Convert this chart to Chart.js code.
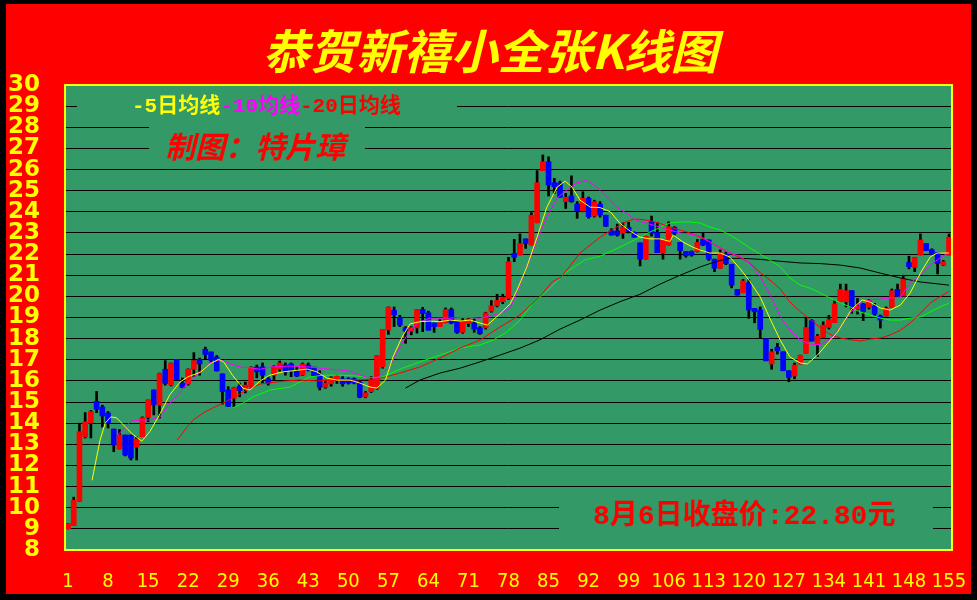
<!DOCTYPE html>
<html>
<head>
<meta charset="utf-8">
<script src="https://cdn.jsdelivr.net/npm/chart.js@4.4.1/dist/chart.umd.min.js"></script>
<style>
html, body { margin: 0; padding: 0; background: #000; }
</style>
</head>
<body>
<canvas id="kline-chart" width="977" height="600"></canvas>
<script>
// daily candles (day 1 .. 155)
const opens = [
    9.0, 9.15, 10.3, 13.36, 14.0, 15.03, 14.77, 14.48, 13.72, 12.78,
    13.44, 13.44, 12.87, 13.36, 14.27, 15.57, 14.86, 16.55, 15.82, 17.02,
    15.9, 15.86, 16.55, 17.02, 17.5, 17.37, 17.13, 16.33, 15.57, 15.18,
    15.75, 15.6, 15.72, 16.65, 16.67, 16.1, 16.27, 16.55, 16.75, 16.8,
    16.51, 16.27, 16.75, 16.65, 16.33, 15.7, 15.86, 16.07, 16.1, 16.1,
    16.1, 15.94, 15.25, 15.49, 15.65, 16.67, 18.41, 19.34, 19.0, 18.52,
    18.36, 18.51, 19.38, 19.22, 18.74, 18.57, 18.75, 19.38, 18.82, 18.3,
    18.71, 18.74, 18.52, 18.51, 19.3, 19.55, 19.75, 19.9, 22.03, 21.96,
    22.72, 22.43, 23.48, 25.95, 26.37, 25.38, 25.36, 24.48, 24.75, 24.37,
    24.05, 24.64, 23.8, 24.36, 23.84, 23.1, 23.1, 22.99, 23.27, 23.03,
    22.53, 21.76, 23.53, 23.02, 22.07, 22.43, 23.27, 22.55, 22.12, 22.12,
    22.12, 22.7, 22.67, 21.76, 21.33, 22.0, 21.52, 20.33, 20.17, 20.64,
    19.43, 19.35, 18.0, 16.8, 17.6, 17.38, 16.48, 16.23, 16.8, 17.3,
    18.85, 17.74, 18.06, 18.53, 18.76, 19.74, 19.74, 20.27, 19.39, 19.64,
    19.48, 19.54, 19.07, 19.07, 19.48, 20.33, 20.02, 21.6, 21.37, 21.96,
    22.5, 22.2, 22.07, 21.48, 21.96
];
const closes = [
    9.25, 10.35, 13.6, 14.07, 14.55, 14.66, 14.34, 14.0, 12.97, 13.44,
    12.49, 12.35, 13.25, 14.26, 15.1, 14.86, 16.35, 15.88, 16.84, 16.06,
    15.68, 16.56, 16.96, 16.8, 17.25, 16.98, 16.47, 15.5, 14.8, 15.68,
    15.54, 15.8, 16.65, 16.43, 16.27, 15.9, 16.67, 16.85, 16.43, 16.47,
    16.23, 16.8, 16.51, 16.23, 15.7, 15.9, 16.15, 16.23, 15.86, 15.9,
    15.9, 15.23, 15.44, 16.04, 17.2, 18.44, 19.49, 19.13, 18.64, 18.36,
    18.52, 19.38, 19.19, 18.4, 18.57, 18.82, 19.38, 18.74, 18.3, 18.82,
    18.93, 18.45, 18.24, 19.22, 19.55, 19.81, 19.96, 21.64, 21.85, 22.5,
    22.5, 23.84, 25.38, 26.37, 25.27, 25.19, 24.69, 24.69, 24.48, 24.05,
    24.64, 23.77, 24.48, 23.85, 23.32, 22.9, 22.9, 23.27, 23.07, 22.8,
    21.76, 22.85, 22.98, 22.07, 22.67, 23.27, 22.98, 22.17, 21.92, 21.95,
    22.55, 22.43, 21.76, 21.33, 22.05, 21.55, 20.53, 20.06, 20.73, 19.35,
    19.27, 18.44, 16.95, 17.38, 17.42, 16.48, 16.17, 16.75, 17.22, 18.53,
    17.88, 18.12, 18.64, 18.9, 19.65, 20.33, 20.27, 19.48, 19.54, 19.28,
    19.8, 19.16, 18.88, 19.43, 20.27, 20.01, 20.86, 21.4, 21.85, 22.67,
    22.17, 22.0, 21.56, 21.64, 22.8
];
const highs = [
    9.25, 10.5, 14.0, 14.5, 14.6, 15.5, 14.85, 14.55, 13.72, 13.7,
    13.44, 13.44, 13.35, 14.3, 15.1, 15.57, 16.37, 16.96, 16.85, 17.02,
    16.14, 16.57, 17.34, 17.08, 17.6, 17.37, 17.2, 16.33, 15.73, 15.7,
    15.9, 15.94, 16.67, 16.75, 16.85, 16.2, 16.72, 16.94, 16.85, 16.85,
    16.67, 16.85, 16.85, 16.65, 16.48, 16.04, 16.2, 16.27, 16.2, 16.15,
    16.14, 16.0, 15.5, 16.2, 17.2, 18.44, 19.5, 19.5, 19.1, 18.57,
    18.57, 19.38, 19.48, 19.3, 18.74, 18.9, 19.45, 19.45, 18.82, 18.95,
    19.0, 18.93, 18.57, 19.25, 19.8, 20.1, 20.1, 21.85, 22.7, 22.95,
    22.72, 23.96, 25.95, 26.69, 26.6, 25.58, 25.45, 24.87, 25.7, 24.48,
    24.95, 24.7, 24.55, 24.48, 23.84, 23.2, 23.42, 23.48, 23.5, 23.05,
    22.53, 22.85, 23.8, 23.5, 22.67, 23.53, 23.3, 22.55, 22.12, 22.15,
    22.7, 22.99, 22.67, 21.76, 22.2, 22.1, 21.52, 20.33, 20.8, 20.8,
    19.43, 19.5, 18.0, 17.5, 17.78, 17.38, 16.48, 16.85, 17.22, 18.96,
    18.9, 18.2, 18.8, 19.1, 19.8, 20.58, 20.58, 20.27, 19.9, 19.67,
    19.85, 19.67, 19.12, 19.5, 20.35, 20.58, 21.0, 21.9, 21.85, 22.95,
    22.5, 22.25, 22.07, 21.7, 22.95
];
const lows = [
    9.0, 9.15, 10.3, 13.3, 13.3, 14.5, 13.82, 13.77, 12.65, 12.78,
    12.45, 12.26, 12.26, 13.36, 14.07, 14.39, 14.24, 15.8, 15.76, 16.04,
    15.67, 15.8, 16.2, 16.27, 17.02, 16.83, 16.47, 14.9, 14.78, 14.78,
    15.25, 15.43, 15.7, 16.14, 15.9, 15.8, 16.06, 16.46, 16.27, 16.2,
    16.2, 16.25, 16.47, 16.2, 15.57, 15.65, 15.75, 15.88, 15.75, 15.85,
    15.86, 15.2, 15.2, 15.45, 15.6, 16.6, 18.2, 18.57, 18.57, 17.78,
    18.18, 18.26, 18.33, 18.4, 18.3, 18.57, 18.75, 18.7, 18.25, 18.25,
    18.57, 18.3, 18.2, 18.45, 19.25, 19.5, 19.65, 19.85, 21.64, 21.96,
    22.27, 22.43, 23.48, 25.95, 24.75, 24.86, 24.69, 24.16, 24.45, 23.69,
    24.0, 23.7, 23.75, 23.75, 23.3, 22.9, 22.85, 22.74, 23.0, 22.8,
    21.44, 21.76, 22.85, 22.07, 21.76, 22.43, 22.9, 21.76, 21.85, 21.9,
    22.1, 22.4, 21.7, 21.17, 21.33, 21.5, 20.4, 20.06, 20.17, 18.96,
    18.75, 18.0, 16.95, 16.55, 17.27, 16.48, 15.96, 16.1, 16.8, 17.3,
    17.88, 17.15, 18.06, 18.45, 18.76, 19.74, 19.5, 19.2, 19.16, 18.85,
    19.4, 19.1, 18.5, 19.07, 19.48, 20.0, 20.02, 21.3, 21.17, 21.96,
    22.17, 22.0, 21.06, 21.45, 21.96
];

// average lines: [day, value]
const ma5 = [
    [5.2, 11.3], [6.6, 13.2], [7.5, 14.0], [8.5, 14.3], [9.5, 14.25], [10.4, 14.0], [12.2, 13.5],
    [13.9, 13.15], [15.3, 13.6], [17.1, 14.45], [18.8, 15.35], [20.6, 15.95], [22.0, 16.2],
    [24.1, 16.4], [25.8, 16.8], [27.3, 17.02], [28.2, 16.9], [29.8, 16.25], [31.6, 15.65],
    [32.8, 15.57], [34.6, 16.0], [36.3, 16.27], [38.6, 16.43], [41.0, 16.5], [42.8, 16.56],
    [44.5, 16.43], [46.3, 16.13], [48.0, 16.04], [50.3, 16.04], [52.0, 15.9], [53.8, 15.71],
    [55.0, 15.66], [56.5, 16.04], [57.8, 17.13], [59.4, 18.08], [60.8, 18.7], [62.5, 18.8],
    [64.3, 18.83], [66.0, 18.8], [67.8, 18.88], [69.5, 18.83], [71.3, 18.88], [73.0, 18.74],
    [74.3, 18.64], [75.3, 18.88], [77.0, 19.3], [78.3, 19.65], [79.5, 20.3], [81.2, 21.39],
    [83.0, 22.8], [84.7, 24.22], [86.5, 25.17], [87.9, 25.45], [89.1, 25.17], [90.5, 24.55],
    [92.3, 24.22], [94.0, 24.2], [95.8, 24.0], [97.5, 23.45], [99.3, 23.08], [101.0, 22.8],
    [102.7, 22.72], [104.5, 22.72], [106.2, 22.6], [106.8, 22.9], [108.5, 22.57], [110.2, 22.33],
    [111.5, 22.19], [113.2, 22.05], [115.0, 22.05], [116.7, 21.86], [118.5, 21.3], [120.2, 20.7],
    [122.0, 19.97], [123.7, 18.95], [125.5, 17.93], [127.2, 17.13], [129.0, 16.85], [130.2, 16.8],
    [132.0, 17.22], [133.8, 17.79], [135.5, 18.31], [137.2, 19.05], [138.0, 19.4], [139.8, 19.83],
    [141.2, 19.73], [143.0, 19.45], [144.7, 19.35], [146.5, 19.59], [148.2, 20.16], [150.0, 21.1],
    [151.7, 21.86], [152.9, 22.05], [155.0, 22.05]
];
const ma10 = [
    [9.7, 13.44], [12.0, 14.1], [13.7, 14.15], [15.3, 14.15], [17.1, 14.3], [18.8, 14.95],
    [20.6, 15.47], [22.3, 16.04], [24.1, 16.45], [25.8, 16.85], [27.6, 17.0], [29.4, 16.8],
    [31.1, 16.66], [32.8, 16.62], [34.6, 16.55], [36.3, 16.66], [39.8, 16.7], [43.2, 16.66],
    [46.6, 16.56], [50.1, 16.47], [53.1, 16.18], [55.0, 16.13], [57.2, 16.66], [59.0, 17.6],
    [60.8, 18.4], [62.5, 18.8], [64.3, 18.97], [66.0, 18.97], [67.8, 18.97], [69.5, 19.0],
    [71.3, 19.0], [73.0, 18.97], [74.8, 19.07], [76.5, 19.2], [78.3, 19.45], [79.5, 20.2],
    [81.2, 21.39], [83.0, 22.66], [84.7, 23.75], [86.5, 24.65], [88.2, 25.03], [89.9, 25.36],
    [91.6, 25.5], [93.4, 25.17], [95.1, 24.7], [96.9, 24.22], [98.6, 23.94], [100.3, 23.6],
    [102.0, 23.47], [104.5, 23.28], [106.2, 23.14], [108.0, 23.0], [109.7, 22.95], [111.5, 22.85],
    [113.2, 22.57], [115.0, 22.29], [116.7, 22.05], [118.5, 21.9], [120.2, 21.55], [122.0, 20.91],
    [123.7, 20.1], [125.5, 19.05], [127.2, 18.4], [129.0, 17.93], [130.7, 17.74], [132.5, 17.72],
    [134.2, 17.98], [136.0, 18.55], [137.7, 19.2], [139.5, 19.73], [141.2, 19.83], [143.0, 19.87],
    [144.7, 19.92], [146.5, 19.97], [148.2, 20.63], [150.0, 21.0], [151.7, 21.48], [153.4, 21.81],
    [155.0, 22.1]
];
const ma20 = [
    [20.1, 13.2], [21.8, 13.82], [22.9, 14.15], [24.6, 14.48], [26.3, 14.72], [28.1, 14.95],
    [29.8, 15.2], [31.6, 15.47], [33.3, 15.71], [34.6, 15.85], [38.6, 15.99], [41.5, 16.04],
    [44.5, 16.0], [47.3, 16.04], [50.3, 16.04], [53.1, 16.06], [56.0, 16.15], [59.0, 16.37],
    [62.5, 16.66], [66.0, 17.08], [69.5, 17.55], [73.0, 17.93], [76.5, 18.55], [80.0, 19.12],
    [83.4, 19.97], [85.7, 20.7], [87.2, 20.91], [90.5, 22.05], [94.0, 22.8], [96.3, 23.18],
    [98.0, 23.47], [99.8, 23.65], [101.0, 23.65], [102.7, 23.58], [104.5, 23.45], [106.2, 23.28],
    [108.0, 23.14], [109.7, 23.0], [111.5, 22.8], [113.2, 22.57], [115.0, 22.3], [116.7, 22.05],
    [118.5, 21.83], [120.2, 21.58], [122.0, 21.12], [123.7, 20.77], [125.5, 20.35], [127.2, 19.73],
    [129.0, 19.28], [130.7, 18.92], [132.5, 18.52], [134.2, 18.2], [136.0, 18.03], [137.7, 17.95],
    [139.5, 17.89], [141.2, 17.98], [143.0, 18.03], [144.7, 18.17], [146.5, 18.4], [148.2, 18.74],
    [150.0, 19.2], [151.7, 19.68], [153.4, 19.97], [155.0, 20.25]
];
const ma30 = [
    [29.8, 14.72], [31.6, 14.95], [33.3, 15.24], [36.3, 15.57], [39.8, 15.71], [43.2, 16.18],
    [45.5, 16.27], [49.0, 16.27], [51.5, 16.23], [53.8, 16.15], [56.0, 16.18], [59.0, 16.55],
    [62.5, 16.9], [66.0, 17.22], [69.5, 17.55], [73.0, 17.7], [75.3, 17.93], [77.7, 18.31],
    [80.0, 18.88], [82.3, 19.68], [84.7, 20.25], [87.9, 21.1], [91.3, 21.72], [94.0, 21.9],
    [97.5, 22.33], [101.0, 22.8], [102.7, 23.04], [104.5, 23.26], [106.2, 23.47], [108.0, 23.52],
    [109.7, 23.52], [111.5, 23.47], [113.2, 23.28], [115.0, 23.14], [116.7, 22.9], [118.5, 22.6],
    [120.2, 22.29], [122.0, 22.0], [123.7, 21.72], [125.5, 21.4], [127.2, 20.87], [129.0, 20.53],
    [130.7, 20.39], [132.5, 20.16], [134.2, 19.92], [136.0, 19.7], [137.7, 19.5], [139.5, 19.26],
    [141.2, 19.12], [143.0, 18.97], [144.7, 18.88], [146.5, 18.88], [148.2, 18.97], [150.0, 19.02],
    [151.7, 19.26], [153.4, 19.5], [155.0, 19.68]
];
const ma60 = [
    [60.0, 15.66], [62.5, 16.04], [66.0, 16.37], [69.5, 16.6], [73.0, 16.9], [76.5, 17.22],
    [80.0, 17.55], [83.4, 17.93], [87.0, 18.45], [90.5, 18.88], [94.0, 19.35], [97.5, 19.75],
    [101.0, 20.1], [104.5, 20.58], [108.0, 21.0], [111.5, 21.39], [113.2, 21.55], [115.0, 21.7],
    [116.7, 21.8], [118.5, 21.8], [120.2, 21.78], [122.0, 21.75], [125.5, 21.66], [129.0, 21.58],
    [132.5, 21.55], [136.0, 21.48], [139.5, 21.34], [143.0, 21.1], [146.5, 20.87], [150.0, 20.68],
    [153.4, 20.58], [155.0, 20.53]
];

const xTickDays = [1, 8, 15, 22, 29, 36, 43, 50, 57, 64, 71, 78, 85, 92, 99, 106, 113, 120, 127, 134, 141, 148, 155];
const titleText = "恭贺新禧小全张K线图";
const legendParts = [["-5日均线", "#ffff00"], ["-10均线", "#ff00ff"], ["-20日均线", "#ff0000"]];
const authorText = "制图：特片璋";
const closeText = "8月6日收盘价:22.80元";

const GREEN = "#339966";

const toPoints = (pairs) => pairs.map(p => ({ x: p[0], y: p[1] }));

function lineSet(label, pairs, color) {
    return {
        type: 'line',
        label: label,
        data: toPoints(pairs),
        borderColor: color,
        borderWidth: 1,
        pointRadius: 0,
        tension: 0,
        order: 0,
    };
}

const framePlugin = {
    id: 'frame',
    beforeDraw(chart) {
        const { ctx, chartArea } = chart;
        ctx.save();
        ctx.fillStyle = "#000";
        ctx.fillRect(0, 0, 977, 600);
        ctx.fillStyle = "#ff0000";
        ctx.fillRect(6, 4, 965, 590);
        ctx.fillStyle = GREEN;
        ctx.fillRect(chartArea.left, chartArea.top, chartArea.right - chartArea.left, chartArea.bottom - chartArea.top);
        ctx.restore();
    },
    beforeDatasetsDraw(chart) {
        // boxes behind the texts hide the grid lines there
        const ctx = chart.ctx;
        ctx.save();
        ctx.fillStyle = GREEN;
        ctx.fillRect(77, 95, 380, 22);
        ctx.fillRect(149, 118, 216, 40);
        ctx.fillRect(559, 498, 374, 42);
        ctx.restore();
    },
    afterDraw(chart) {
        const { ctx, chartArea } = chart;
        ctx.save();
        ctx.strokeStyle = "#ffff00";
        ctx.lineWidth = 2;
        ctx.strokeRect(chartArea.left, chartArea.top, chartArea.right - chartArea.left, chartArea.bottom - chartArea.top);

        ctx.textBaseline = "middle";
        ctx.textAlign = "center";
        ctx.fillStyle = "#ffff00";
        ctx.font = "italic bold 47px 'Noto Sans CJK SC'";
        ctx.fillText(titleText, 490, 51);

        ctx.textAlign = "left";
        ctx.font = "bold 21px 'Liberation Mono', 'Noto Sans CJK SC'";
        let x = 132;
        for (const [text, color] of legendParts) {
            ctx.fillStyle = color;
            ctx.fillText(text, x, 107);
            x += ctx.measureText(text).width;
        }

        ctx.fillStyle = "#ff0000";
        ctx.font = "italic bold 30px 'Noto Sans CJK SC'";
        ctx.fillText(authorText, 165, 147);

        ctx.font = "bold 28px 'Liberation Mono', 'Noto Sans CJK SC'";
        ctx.fillText(closeText, 593, 517);
        ctx.restore();
    }
};

const days = opens.map((_, i) => i + 1);

const canvas = document.querySelector("#kline-chart");

const chart = new Chart(canvas, {
    type: 'bar',
    data: {
        datasets: [
            lineSet('MA5', ma5, "#ffff00"),
            lineSet('MA10', ma10, "#ff00ff"),
            lineSet('MA20', ma20, "#ff0000"),
            lineSet('MA30', ma30, "#00ff00"),
            lineSet('MA60', ma60, "#000000"),
            {
                label: 'body',
                data: days.map((d, i) => ({ x: d, y: [opens[i], closes[i]] })),
                backgroundColor: (c) => closes[c.dataIndex] >= opens[c.dataIndex] ? "#ff0000" : "#0000ff",
                barThickness: 5,
                minBarLength: 2,
                grouped: false,
                order: 1,
            },
            {
                label: 'wick',
                data: days.map((d, i) => ({ x: d, y: [lows[i], highs[i]] })),
                backgroundColor: "#000000",
                barThickness: 2,
                grouped: false,
                order: 2,
            },
        ]
    },
    options: {
        responsive: false,
        animation: false,
        devicePixelRatio: 1,
        layout: {
            padding: { top: 85, left: 6, right: 25, bottom: 0 }
        },
        plugins: {
            legend: { display: false },
            tooltip: { enabled: false },
        },
        scales: {
            x: {
                type: 'linear',
                min: 0.475,
                max: 155.52,
                offset: false,
                grid: { display: false },
                border: { display: false },
                afterFit(scale) {
                    scale.height = 50;
                    scale.paddingLeft = 0;
                    scale.paddingRight = 0;
                },
                afterBuildTicks(scale) { scale.ticks = xTickDays.map(v => ({ value: v })); },
                ticks: {
                    color: "#ffff00",
                    font: { family: "'Liberation Sans Narrow', 'DejaVu Sans Condensed', 'Liberation Sans'", size: 20 },
                    padding: 12,
                    autoSkip: false,
                    maxRotation: 0,
                }
            },
            y: {
                min: 8,
                max: 30,
                grid: { color: "#000000", lineWidth: 1, drawTicks: false },
                border: { display: false },
                afterFit(scale) {
                    scale.width = 59;
                    scale.paddingTop = 0;
                    scale.paddingBottom = 0;
                },
                ticks: {
                    stepSize: 1,
                    autoSkip: false,
                    color: "#ffff00",
                    font: { family: "'DejaVu Sans'", size: 23, weight: 'bold' },
                    padding: 25,
                }
            }
        }
    },
    plugins: [framePlugin]
});
</script>
</body>
</html>
